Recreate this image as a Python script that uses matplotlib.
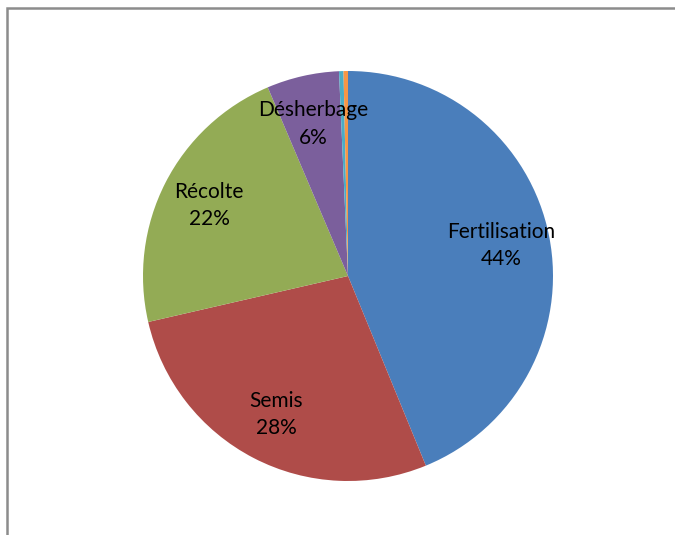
import matplotlib
matplotlib.use("Agg")
import matplotlib.pyplot as plt
from matplotlib.patches import Rectangle

# Postes de la répartition (sens horaire depuis le haut)
categories = ["Fertilisation", "Semis", "Récolte", "Désherbage", "Autre 1", "Autre 2"]
values = [43.8, 27.6, 22.2, 5.7, 0.35, 0.35]
colors = ["#4a7ebb", "#af4c49", "#93ab55", "#7b5f9c", "#4bacc6", "#f79646"]

W, H = 675, 535
fig = plt.figure(figsize=(W / 100, H / 100), dpi=100)

# cadre gris du graphique
fig.patches.append(Rectangle((7 / W, -0.05), 1.1, (H - 8) / H + 0.05,
                             transform=fig.transFigure, fill=False,
                             edgecolor="#8c8c8c", linewidth=1.8))

cx, cy, r = 348, 276, 205
ax = fig.add_axes([(cx - r) / W, (H - cy - r) / H, 2 * r / W, 2 * r / H])

wedges, texts, autotexts = ax.pie(values, colors=colors, startangle=90,
                                  counterclock=False, radius=1,
                                  autopct=lambda p: "", pctdistance=0.76,
                                  wedgeprops=dict(linewidth=0))
total = sum(values)
for name, v, t in zip(categories, values, autotexts):
    pct = round(v / total * 100)
    if pct >= 1:
        t.set_text(f"{name}\n{pct}%")
    t.set_fontsize(15)
    t.set_fontfamily("Lato")
    t.set_color("black")
    t.set_linespacing(1.45)

ax.set_xlim(-1, 1)
ax.set_ylim(-1, 1)
ax.set_aspect("equal")
ax.axis("off")

fig.savefig("out.png", dpi=100)
